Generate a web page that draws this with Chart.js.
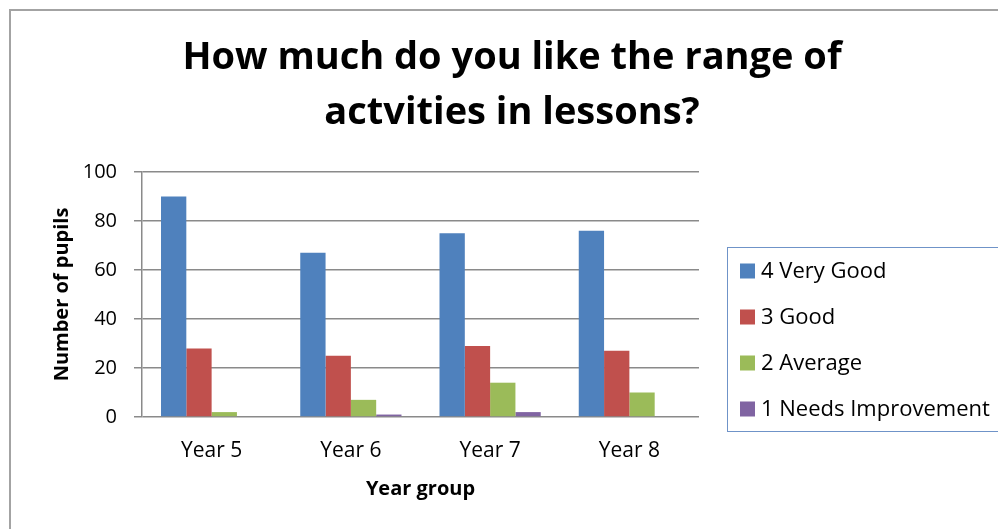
<!DOCTYPE html>
<html>
<head>
<meta charset="utf-8">
<script src="https://cdn.jsdelivr.net/npm/chart.js@4/dist/chart.umd.min.js"></script>
<style>
    html, body { margin: 0; padding: 0; overflow: hidden; background: #fff; }
    #frame { position: absolute; left: 9px; top: 9px; width: 1100px; height: 600px; border: 2px solid #a3a3a3; }
    #wrap { position: absolute; left: 0; top: 0; width: 998px; height: 529px; }
</style>
</head>
<body>
<div id="frame"></div>
<div id="wrap"><canvas id="js-chart-activities"></canvas></div>
<script>
    const categories = ["Year 5", "Year 6", "Year 7", "Year 8"];
    const veryGood = [90, 67, 75, 76];
    const good = [28, 25, 29, 27];
    const average = [2, 7, 14, 10];
    const needsImprovement = [0, 1, 2, 0];
    const seriesNames = ["4 Very Good", "3 Good", "2 Average", "1 Needs Improvement"];
    const titleLines = ["How much do you like the range of", "actvities in lessons?"];
    const yTicks = [0, 20, 40, 60, 80, 100];

    const FONT = "'Open Sans', sans-serif";
    const colors = ["#4f81bd", "#c0504d", "#9bbb59", "#8064a2"];
    const gridColor = "#8a8a8a";

    // legend drawn by hand so the box can sit where excel put it
    const boxLegend = {
        id: "boxLegend",
        afterDraw(chart) {
            const ctx = chart.ctx;
            ctx.save();
            ctx.strokeStyle = "#6f93c8";
            ctx.lineWidth = 1;
            ctx.strokeRect(727.5, 247.5, 300, 184);
            ctx.font = "22px " + FONT;
            ctx.textBaseline = "middle";
            chart.data.datasets.forEach((ds, i) => {
                let y = 271 + i * 46;
                ctx.fillStyle = ds.backgroundColor;
                ctx.fillRect(740, y - 7.5, 15, 15);
                ctx.fillStyle = "#000";
                ctx.fillText(ds.label, 761, y + 1);
            });
            ctx.restore();
        }
    };

    Chart.defaults.font.family = FONT;
    Chart.defaults.color = "#000";

    let el = document.getElementById("js-chart-activities");
    let data = {
        labels: categories,
        datasets: [veryGood, good, average, needsImprovement].map((vals, i) => ({
            label: seriesNames[i],
            data: vals,
            backgroundColor: colors[i],
            borderWidth: 0
        }))
    };

    let chart = new Chart(el, {
        type: "bar",
        data: data,
        plugins: [boxLegend],
        options: {
            responsive: true,
            maintainAspectRatio: false,
            animation: false,
            categoryPercentage: 0.727,
            barPercentage: 1,
            layout: { padding: { left: 26, top: 0, right: 0, bottom: 0 } },
            plugins: {
                legend: { display: false },
                tooltip: { enabled: false },
                title: {
                    display: true,
                    text: titleLines,
                    color: "#000",
                    font: { size: 38, weight: "bold", lineHeight: 1.447 },
                    padding: { top: 31, bottom: 31 }
                }
            },
            scales: {
                x: {
                    grid: { display: false, drawTicks: false },
                    border: { display: false },
                    ticks: { font: { size: 21 }, padding: 21 },
                    title: {
                        display: true,
                        text: "Year group",
                        font: { size: 20, weight: "bold" },
                        padding: { top: 0, bottom: 28 }
                    },
                    afterFit(s) { s.height = 112; }
                },
                y: {
                    min: 0,
                    max: 100,
                    afterBuildTicks(s) { s.ticks = yTicks.map(v => ({ value: v })); },
                    grid: { color: gridColor, lineWidth: 1.5, tickLength: 8 },
                    border: { display: true, color: gridColor, width: 1.5 },
                    ticks: { font: { size: 20 }, padding: 17 },
                    title: {
                        display: true,
                        text: "Number of pupils",
                        font: { size: 20, weight: "bold" },
                        padding: { top: 24, bottom: 0 }
                    },
                    afterFit(s) { s.width = 116; }
                },
                pad: {
                    type: "linear",
                    position: "right",
                    grid: { display: false, drawTicks: false },
                    border: { display: false },
                    ticks: { display: false },
                    afterFit(s) { s.width = 299; }
                }
            }
        }
    });
</script>
</body>
</html>
